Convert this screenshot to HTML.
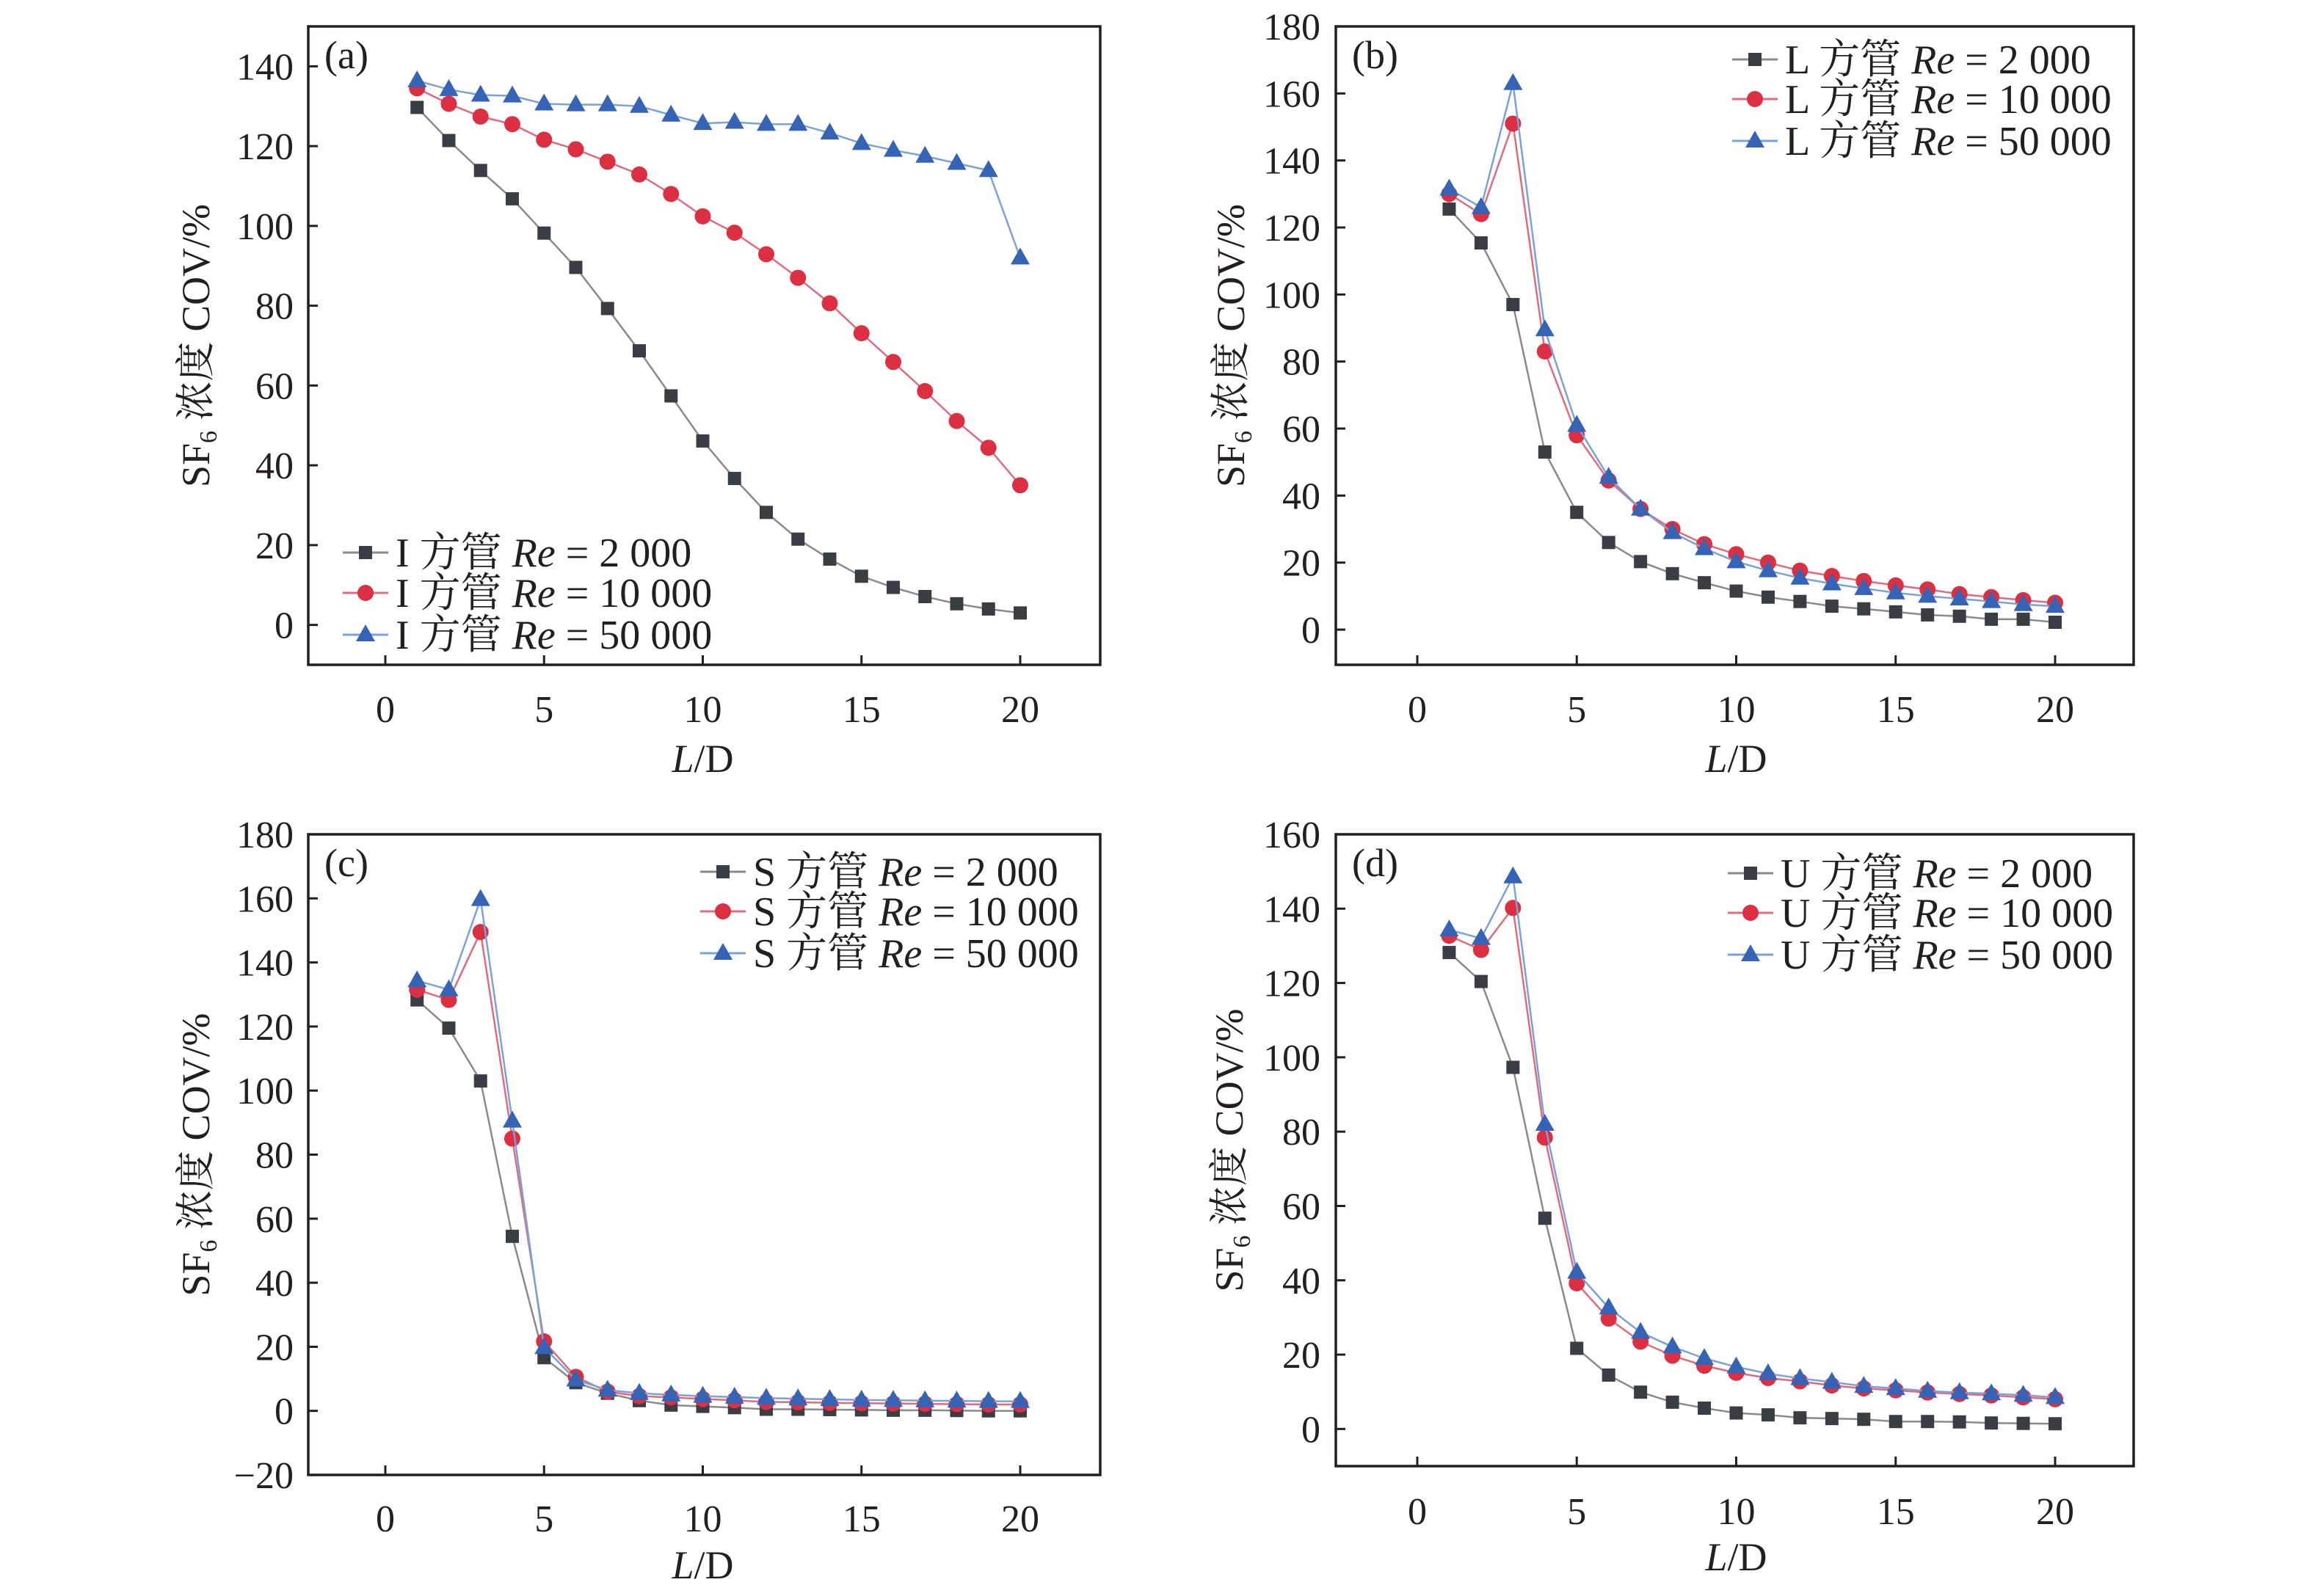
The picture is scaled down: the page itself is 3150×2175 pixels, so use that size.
<!DOCTYPE html>
<html><head><meta charset="utf-8">
<style>
html,body{margin:0;padding:0;background:#fff;}
svg{display:block;}
text{font-family:"Liberation Serif","Noto Serif CJK SC",serif;fill:#231f20;}
</style></head>
<body>
<svg id="fig" width="3150" height="2175" viewBox="0 0 3150 2175" xmlns="http://www.w3.org/2000/svg"></svg>
<script>
const xValues = [1,2,3,4,5,6,7,8,9,10,11,12,13,14,15,16,17,18,19,20];
const xTicks = [0,5,10,15,20];
// panel a
const aRe2000  = [129.7,121.4,113.9,106.8,98.2,89.6,79.3,68.7,57.4,46.1,36.7,28.2,21.5,16.5,12.2,9.4,7.1,5.3,4.0,3.0];
const aRe10000 = [134.5,130.6,127.4,125.5,121.6,119.2,116.1,112.9,108.0,102.4,98.3,92.9,87.0,80.6,73.1,65.9,58.6,51.1,44.4,35.0];
const aRe50000 = [136.4,134.2,132.8,132.6,130.6,130.4,130.4,130.0,127.8,125.7,126.0,125.5,125.5,123.3,120.7,119.0,117.5,115.7,113.9,92.0];
const aYTicks = [0,20,40,60,80,100,120,140];
// panel b
const bRe2000  = [125.5,115.4,97.0,53.0,35.0,26.0,20.3,16.7,14.0,11.5,9.7,8.4,7.0,6.2,5.3,4.4,4.0,3.1,3.1,2.2];
const bRe10000 = [130.0,124.0,151.0,83.0,58.0,44.5,36.0,30.0,25.5,22.5,20.0,17.6,16.0,14.5,13.2,12.0,10.6,9.7,8.8,8.0];
const bRe50000 = [131.5,126.0,163.0,89.5,61.0,45.5,36.0,29.0,24.2,20.3,17.6,15.4,13.7,12.3,11.0,10.0,9.2,8.4,7.5,7.0];
const bYTicks = [0,20,40,60,80,100,120,140,160,180];
// panel c
const cRe2000  = [128.3,119.5,103.0,54.5,16.6,8.8,5.5,3.2,1.8,1.4,1.0,0.5,0.5,0.4,0.3,0.2,0.2,0.1,0.0,0.0];
const cRe10000 = [131.5,128.3,149.5,85.0,21.7,10.6,6.0,4.6,4.2,3.7,3.3,2.8,2.7,2.5,2.4,2.3,2.2,2.1,2.0,2.0];
const cRe50000 = [134.3,131.5,159.7,90.5,19.8,9.7,6.5,5.5,5.0,4.6,4.3,4.0,3.8,3.6,3.4,3.3,3.2,3.1,3.0,3.0];
const cYTicks = [-20,0,20,40,60,80,100,120,140,160,180];
// panel d
const dRe2000  = [128.2,120.4,97.3,56.7,21.7,14.5,9.9,7.2,5.6,4.3,3.8,3.0,2.8,2.6,2.0,2.0,1.9,1.6,1.5,1.4];
const dRe10000 = [132.7,128.9,140.2,78.4,39.2,29.7,23.5,19.7,17.0,15.1,13.7,12.8,11.7,10.9,10.4,9.8,9.4,9.0,8.5,8.0];
const dRe50000 = [134.3,132.0,148.6,82.0,42.2,32.6,26.0,22.1,19.0,16.7,14.9,13.6,12.6,11.5,10.9,10.2,9.8,9.5,9.1,8.5];
const dYTicks = [0,20,40,60,80,100,120,140,160];
const legendValues = ["2 000","10 000","50 000"];

const NS = "http://www.w3.org/2000/svg";
const svg = document.getElementById('fig');
function mk(tag, attrs, parent){const e=document.createElementNS(NS,tag);for(const k in attrs)e.setAttribute(k,attrs[k]);(parent||svg).appendChild(e);return e;}

const styles = [
  {line:'#8a8a8a', fill:'#3b3d45', shape:'square'},
  {line:'#e06b7c', fill:'#dc2f42', shape:'circle'},
  {line:'#7aa2d9', fill:'#3563b5', shape:'triangle'}
];

function marker(g, shape, cx, cy, fill){
  let m;
  if(shape==='square'){ m = mk('rect',{x:cx-9,y:cy-9,width:18,height:18,fill:fill},g); }
  else if(shape==='circle'){ m = mk('circle',{cx:cx,cy:cy,r:11,fill:fill},g); }
  else { m = mk('polygon',{points:`${cx},${cy-14} ${cx+13},${cy+9} ${cx-13},${cy+9}`,fill:fill},g); }
  return m;
}

const panels = [
  {id:'a', label:'(a)', pipe:'I', series:[aRe2000,aRe10000,aRe50000], yTicks:aYTicks, ymin:-10, ymax:150,
   L:420, R:1499, T:36, B:906, x0:525, x20:1390, tickLabelY:984, titleY:1052, yLabRight:400, yTitleX:285,
   legX:467, legY:[753,808,865]},
  {id:'b', label:'(b)', pipe:'L', series:[bRe2000,bRe10000,bRe50000], yTicks:bYTicks, ymin:-10.5, ymax:180,
   L:1820, R:2907, T:36, B:906, x0:1931, x20:2800, tickLabelY:984, titleY:1052, yLabRight:1799, yTitleX:1695,
   legX:2360, legY:[81,135,192]},
  {id:'c', label:'(c)', pipe:'S', series:[cRe2000,cRe10000,cRe50000], yTicks:cYTicks, ymin:-20, ymax:180,
   L:420, R:1499, T:1137, B:2010, x0:525, x20:1390, tickLabelY:2087, titleY:2151, yLabRight:400, yTitleX:285,
   legX:954, legY:[1188,1242,1299]},
  {id:'d', label:'(d)', pipe:'U', series:[dRe2000,dRe10000,dRe50000], yTicks:dYTicks, ymin:-10, ymax:160,
   L:1820, R:2907, T:1137, B:1998, x0:1931, x20:2800, tickLabelY:2077, titleY:2140, yLabRight:1799, yTitleX:1693,
   legX:2354, legY:[1190,1244,1301]}
];

panels.forEach(p=>{
  const g = mk('g',{});
  
  
  const xs = v => p.x0 + (v-0)*(p.x20-p.x0)/20;
  const ys = v => p.B - (v-p.ymin)*(p.B-p.T)/(p.ymax-p.ymin);

  p.series.forEach((vals,si)=>{
    const st = styles[si];
    const sg = mk('g',{},g);
    
    
    const pts = vals.map((v,i)=>xs(xValues[i])+','+ys(v)).join(' ');
    mk('polyline',{points:pts,fill:'none',stroke:st.line,'stroke-width':2.5},sg);
    vals.forEach((v,i)=>{
      const m = marker(sg, st.shape, xs(xValues[i]), ys(v), st.fill);
      
      
    });
  });

  const fr = mk('rect',{x:p.L,y:p.T,width:p.R-p.L,height:p.B-p.T,fill:'none',stroke:'#231f20','stroke-width':3.5},g);
  
  

  xTicks.forEach(t=>{
    const x = xs(t);
    mk('line',{x1:x,x2:x,y1:p.B,y2:p.B-13,stroke:'#231f20','stroke-width':3},g);
    const tx = mk('text',{x:x,y:p.tickLabelY,'font-size':52,'text-anchor':'middle'},g);
    tx.textContent = t;
    
    
  });
  p.yTicks.forEach(t=>{
    const y = ys(t);
    mk('line',{x1:p.L,x2:p.L+13,y1:y,y2:y,stroke:'#231f20','stroke-width':3},g);
    const tx = mk('text',{x:p.yLabRight,y:y+18,'font-size':52,'text-anchor':'end'},g);
    tx.textContent = t<0 ? '\u2212'+Math.abs(t) : t;
    
    
  });

  const xt = mk('text',{x:(p.x0+p.x20)/2,y:p.titleY,'font-size':54,'text-anchor':'middle'},g);
  
  
  const it = mk('tspan',{'font-style':'italic'},xt); it.textContent='L';
  const rt = mk('tspan',{},xt); rt.textContent='/D';

  const cy = (p.T+p.B)/2;
  const yt = mk('text',{x:0,y:0,'font-size':54,'text-anchor':'middle',transform:`translate(${p.yTitleX},${cy}) rotate(-90)`},g);
  
  
  const s1 = mk('tspan',{},yt); s1.textContent='SF';
  const s2 = mk('tspan',{'font-size':34,dy:10},yt); s2.textContent='6';
  const s3 = mk('tspan',{dy:-10},yt); s3.textContent=' 浓度 COV/%';

  const pl = mk('text',{x:p.L+22,y:p.T+57,'font-size':54},g);
  pl.textContent = p.label;
  
  

  const lg = mk('g',{},g);
  
  
  legendValues.forEach((lv,si)=>{
    const st = styles[si];
    const y = p.legY[si];
    const eg = mk('g',{},lg);
    
    
    mk('line',{x1:p.legX,x2:p.legX+62,y1:y,y2:y,stroke:st.line,'stroke-width':3},eg);
    marker(eg, st.shape, p.legX+31, y, st.fill);
    const t = mk('text',{x:p.legX+72,y:y+19,'font-size':56},eg);
    const a = mk('tspan',{},t); a.textContent = p.pipe+' 方管 ';
    const b = mk('tspan',{'font-style':'italic'},t); b.textContent='Re';
    const c = mk('tspan',{},t); c.textContent=' = '+lv;
  });
});
</script>
</body></html>
